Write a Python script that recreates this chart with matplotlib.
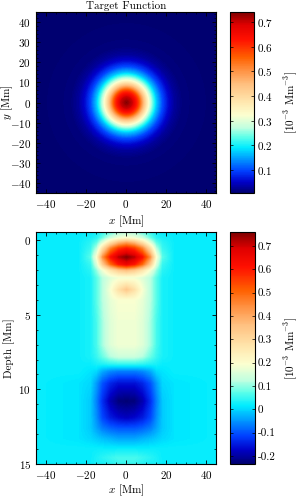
# Target function (top) and depth cut (bottom)
import numpy as np
import matplotlib
matplotlib.use("Agg")
import matplotlib.pyplot as plt
from matplotlib.colors import LinearSegmentedColormap
from matplotlib.ticker import MultipleLocator, FuncFormatter

plt.rcParams['font.family'] = 'serif'
plt.rcParams['font.serif'] = ['cmr10']
plt.rcParams['mathtext.fontset'] = 'cm'
plt.rcParams['axes.unicode_minus'] = False
plt.rcParams['axes.formatter.use_mathtext'] = True
plt.rcParams['font.size'] = 8

# top panel: radial profile of the target (10^-3 Mm^-3) vs radius (Mm)
radius = [0, 3, 6, 9, 12, 15, 18, 21, 24, 28, 45, 70]
target = [0.74, 0.70, 0.59, 0.43, 0.28, 0.17, 0.10, 0.055, 0.028, 0.012, 0.006, 0.006]

# bottom panel: values at |x| (Mm) for each depth (Mm)
x_half = [0, 4, 8, 12, 15, 18, 24, 45]
depth = [-0.55, -0.2, 0.1, 0.5, 1.1, 1.6, 2.0, 2.5, 3.3, 4.0, 5.5, 7.0, 7.8,
         8.3, 8.8, 9.6, 10.8, 11.9, 12.6, 13.3, 14.0, 14.6, 15.0]
cut = [
    [0.12, 0.11, 0.08, 0.05, 0.03, 0.02, 0.02, 0.02],
    [0.20, 0.18, 0.14, 0.08, 0.04, 0.03, 0.02, 0.02],
    [0.40, 0.36, 0.27, 0.15, 0.07, 0.04, 0.02, 0.02],
    [0.60, 0.56, 0.46, 0.28, 0.12, 0.05, 0.02, 0.02],
    [0.76, 0.72, 0.62, 0.44, 0.20, 0.07, 0.02, 0.02],
    [0.66, 0.61, 0.50, 0.33, 0.15, 0.05, 0.02, 0.02],
    [0.36, 0.33, 0.27, 0.18, 0.10, 0.04, 0.02, 0.02],
    [0.18, 0.18, 0.16, 0.12, 0.07, 0.03, 0.02, 0.02],
    [0.34, 0.28, 0.19, 0.12, 0.07, 0.03, 0.02, 0.02],
    [0.19, 0.19, 0.17, 0.12, 0.07, 0.03, 0.02, 0.02],
    [0.18, 0.18, 0.16, 0.11, 0.06, 0.03, 0.02, 0.02],
    [0.18, 0.18, 0.16, 0.11, 0.06, 0.03, 0.02, 0.02],
    [0.14, 0.14, 0.12, 0.08, 0.05, 0.03, 0.02, 0.02],
    [0.05, 0.05, 0.045, 0.035, 0.03, 0.02, 0.02, 0.02],
    [-0.07, -0.07, -0.06, -0.035, 0.0, 0.01, 0.02, 0.02],
    [-0.16, -0.16, -0.14, -0.10, -0.045, 0.0, 0.01, 0.02],
    [-0.23, -0.225, -0.19, -0.13, -0.065, -0.01, 0.01, 0.02],
    [-0.18, -0.17, -0.15, -0.11, -0.055, -0.01, 0.01, 0.02],
    [-0.10, -0.10, -0.09, -0.07, -0.04, -0.01, 0.01, 0.02],
    [-0.04, -0.04, -0.03, -0.02, -0.01, 0.0, 0.01, 0.02],
    [0.02, 0.02, 0.02, 0.02, 0.02, 0.02, 0.02, 0.02],
    [0.06, 0.06, 0.05, 0.04, 0.03, 0.02, 0.02, 0.02],
    [0.05, 0.05, 0.04, 0.03, 0.03, 0.02, 0.02, 0.02],
]

cmap = LinearSegmentedColormap.from_list('jetw', [
    (0.00, '#000070'), (0.06, '#0000c8'), (0.12, '#0040ff'),
    (0.18, '#0090ff'), (0.25, '#00ecff'), (0.31, '#60ffe8'),
    (0.36, '#c0ffe0'), (0.43, '#fcffd0'), (0.50, '#ffe8b0'),
    (0.60, '#ffc080'), (0.68, '#ff9040'), (0.75, '#ff6000'),
    (0.85, '#ff1000'), (0.93, '#e00000'), (1.00, '#800000')])

fig = plt.figure(figsize=(2.99, 4.99), dpi=100)

# ---- top: target function
ax1 = fig.add_axes([36/299, 1-193/499, 180/299, 181/499])
g = np.linspace(-45, 45, 181)
X, Y = np.meshgrid(g, g)
R = np.hypot(X, Y)
F = np.interp(R.ravel(), radius, target).reshape(R.shape)
im1 = ax1.imshow(F, extent=[-45, 45, -45, 45], origin='lower', cmap=cmap,
                 vmin=0.005, vmax=0.742, aspect='auto', interpolation='bilinear')
ax1.set_title('Target Function', fontsize=8, pad=2)
ax1.set_xlabel('$x$ [Mm]', labelpad=3)
ax1.set_ylabel('$y$ [Mm]')
ax1.yaxis.set_label_coords(-0.115, 0.5)
ax1.set_xticks([-40, -20, 0, 20, 40])
ax1.set_yticks(range(-40, 41, 10))
ax1.xaxis.set_minor_locator(MultipleLocator(5))
ax1.yaxis.set_minor_locator(MultipleLocator(2))

cax1 = fig.add_axes([230/299, 1-193/499, 24/299, 181/499])
cb1 = fig.colorbar(im1, cax=cax1, ticks=[0.1, 0.2, 0.3, 0.4, 0.5, 0.6, 0.7])
cb1.set_label('[10$^{-3}$ Mm$^{-3}$]')
cax1.yaxis.set_label_coords(2.2, 0.5)

# ---- bottom: depth cut
ax2 = fig.add_axes([36/299, 1-464/499, 180/299, 232/499])
xs = np.linspace(-45, 45, 181)
zs = np.linspace(-0.55, 15, 240)
cut = np.array(cut)
rows = np.array([np.interp(np.abs(xs), x_half, r) for r in cut])
D = np.array([np.interp(zs, depth, rows[:, j]) for j in range(len(xs))]).T
im2 = ax2.imshow(D, extent=[-45, 45, 15, -0.55], origin='upper', cmap=cmap,
                 vmin=-0.235, vmax=0.76, aspect='auto', interpolation='bilinear')
ax2.set_xlabel('$x$ [Mm]', labelpad=1)
ax2.set_ylabel('Depth [Mm]')
ax2.yaxis.set_label_coords(-0.115, 0.5)
ax2.set_xticks([-40, -20, 0, 20, 40])
ax2.set_yticks([0, 5, 10, 15])
ax2.xaxis.set_minor_locator(MultipleLocator(5))
ax2.yaxis.set_minor_locator(MultipleLocator(1))

cax2 = fig.add_axes([230/299, 1-464/499, 25/299, 232/499])
cb2 = fig.colorbar(im2, cax=cax2, ticks=[-0.2, -0.1, 0, 0.1, 0.2, 0.3, 0.4, 0.5, 0.6, 0.7],
                   format=FuncFormatter(lambda v, p: f'{v:g}'))
cb2.set_label('[10$^{-3}$ Mm$^{-3}$]')
cax2.yaxis.set_label_coords(2.1, 0.5)

for ax in (ax1, ax2):
    ax.tick_params(which='both', direction='in', top=True, right=True)
    ax.tick_params(which='major', length=3, width=0.6)
    ax.tick_params(which='minor', length=1.5, width=0.5)
    for s in ax.spines.values():
        s.set_linewidth(0.8)
for cb in (cb1, cb2):
    cb.ax.tick_params(which='both', direction='in', left=True, right=True,
                      length=2, width=0.5, pad=2)
    cb.outline.set_linewidth(0.8)

fig.savefig('out.png', dpi=100)
